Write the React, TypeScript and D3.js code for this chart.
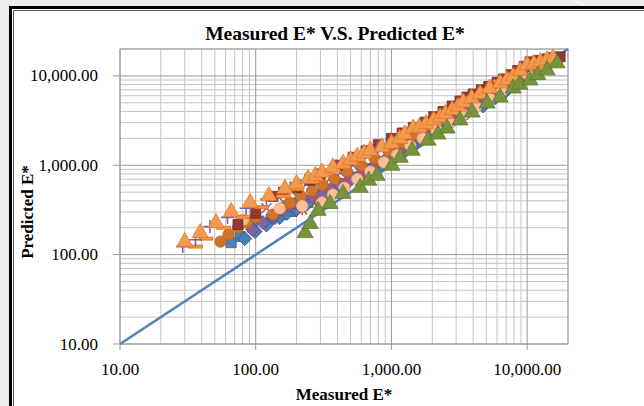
import React from "react";
import * as d3 from "d3";

const W = 644;
const H = 406;

const xDomain: [number, number] = [10, 20000];
const yDomain: [number, number] = [10, 20000];
const majorTicks = [10, 100, 1000, 10000];
const majorLabels = ["10.00", "100.00", "1,000.00", "10,000.00"];
const minorMultipliers = [2, 3, 4, 5, 6, 7, 8, 9];

const titleText = "Measured E* V.S. Predicted E*";
const xTitle = "Measured E*";
const yTitle = "Predicted E*";

type Pt = [number, number];

const blueSquare: Pt[] = [[66,136],[77,159],[95,200],[130,250],[155,280],[185,304],[215,345],[243,384],[290,450],[350,520],[420,620],[520,740],[650,920],[800,1100],[1000,1400],[1250,1700],[1600,2200],[2000,2700],[2500,3400],[3200,4200],[4000,5200],[5000,6400],[6300,8000],[8000,9800],[10000,11500],[12000,13500]];
const blueDiamond: Pt[] = [[83,151],[99,181],[120,215],[150,260],[170,290],[200,320],[240,370],[280,420],[340,490],[400,560],[470,630],[558,697],[660,820],[800,950],[1000,1180],[1200,1400],[1500,1750],[1800,2100],[2300,2600],[2800,3100],[3600,3850],[4740,4600],[5800,5700],[7000,6800],[8500,8300],[10500,10000],[12000,11500],[14000,13000]];
const purpleDiamond: Pt[] = [[95,191],[113,229],[135,270],[156,321],[178,350],[200,380],[230,410],[265,437],[290,455],[313,472],[360,540],[420,600],[500,700],[600,800],[750,980],[900,1150],[1150,1420],[1400,1700],[1800,2150],[2200,2600],[2800,3300],[3500,4000],[4400,5000],[5500,6000],[7000,7500],[9000,9200],[11000,10800],[13000,12500]];
const redStar: Pt[] = [[220,321],[280,400],[350,480],[460,640],[600,800],[780,1050],[1000,1300],[1300,1700],[1700,2100],[2200,2700],[2800,3300],[3600,4100],[4500,5000],[5700,6200],[7000,7600],[8800,9400],[11000,11500],[13500,13500]];
const purpleX: Pt[] = [[120,330],[160,390],[200,450],[260,550],[330,650],[420,830],[520,1000],[680,1300],[869,1634],[1100,1900],[1374,2228],[1700,2600],[2000,3000],[2300,3300],[2618,3553],[3100,4100],[3600,4600],[4300,5000],[5070,5520],[6200,6700],[7500,8000],[9000,9000],[10500,10000],[13000,12700],[16630,15500]];
const orangeCircle: Pt[] = [[55,140],[63,168],[74,201],[86,229],[100,261],[134,281],[155,330],[180,380],[215,450],[260,520],[310,600],[380,700],[470,850],[600,1000],[750,1200],[950,1450],[1200,1800],[1500,2200],[1900,2800],[2400,3400],[3000,4300],[3800,5200],[4800,6500],[6000,7800],[7600,9600],[9500,11500],[11500,13000],[14000,14500]];
const peachCircle: Pt[] = [[81,247],[150,330],[220,350],[308,384],[370,470],[450,560],[560,700],[700,850],[880,1080],[1100,1300],[1380,1650],[1700,2000],[2150,2500],[2700,3000],[3400,3700],[4200,4500],[5300,5600],[6500,6800],[8200,8600],[10000,10500],[12500,12500]];
const darkRedSquare: Pt[] = [[74,217],[100,290],[134,449],[160,500],[200,560],[250,680],[300,800],[400,1000],[521,1230],[650,1450],[800,1700],[1000,2000],[1200,2300],[1450,2650],[1770,3040],[2050,3500],[2400,4000],[2800,4600],[3200,5240],[3600,5800],[4000,6280],[4600,7000],[5200,7600],[6000,8500],[6700,9250],[7600,10300],[8500,11500],[9500,12800],[10500,14360],[12000,14900],[14000,15500],[15500,16000],[17500,16350]];
const orangeDash: Pt[] = [[36,123],[43,151],[58,200],[80,265],[110,340],[160,450],[200,540],[260,650],[330,800],[420,950],[540,1150],[700,1400],[880,1700],[1100,2000],[1400,2450],[1800,2900],[2300,3600],[3000,4500],[3900,5700],[5000,7000],[6300,8700],[8000,10500],[10000,12300],[13000,14500]];
const purplePlus: Pt[] = [[29,123],[36,147],[46,206],[62,261],[85,330],[120,420],[180,560],[230,680],[300,800],[390,980],[500,1150],[640,1380],[800,1600],[1000,1950],[1300,2300],[1700,2850],[2200,3400],[2800,4200],[3500,5000],[4400,6200],[5500,7400],[7000,9100],[8500,10800],[10000,12200],[12000,14000]];
const orangeTriangle: Pt[] = [[30,144],[39,181],[51,235],[66,312],[91,394],[125,470],[164,566],[200,640],[243,733],[275,790],[308,860],[370,980],[440,1081],[500,1180],[560,1300],[630,1400],[697,1513],[850,1650],[1000,1813],[1150,2050],[1250,2300],[1445,2673],[1600,2750],[1800,3000],[2050,3300],[2285,3553],[2500,3900],[2800,4300],[3100,4700],[3377,5240],[3900,5800],[4500,6500],[5300,7500],[6325,8565],[7100,9300],[7900,10200],[8900,11800],[10000,13650],[11200,14000],[12500,14800],[14000,15600],[15500,16350]];
const greenTriangle: Pt[] = [[231,181],[252,229],[288,321],[353,384],[440,498],[588,581],[680,700],[783,792],[1010,1026],[1160,1262],[1420,1513],[1862,1960],[2200,2300],[2570,2673],[3200,3300],[3935,4045],[5070,5110],[6325,5960],[7890,7520],[8800,8300],[10500,9250],[12000,10600],[14030,11990],[16630,14360]];

const equalityLine: Pt[] = [[10, 10], [20000, 20000]];

type Kind = "diamond" | "square" | "triangle" | "circle" | "x" | "star" | "plus" | "dash";

const seriesList: { data: Pt[]; kind: Kind; fill: string; stroke: string }[] = [
  { data: blueSquare, kind: "square", fill: "#4F81BD", stroke: "#385D8A" },
  { data: blueDiamond, kind: "diamond", fill: "#4A7EBB", stroke: "#2C4D75" },
  { data: purpleDiamond, kind: "diamond", fill: "#8064A2", stroke: "#5C4776" },
  { data: redStar, kind: "star", fill: "none", stroke: "#C0504D" },
  { data: purpleX, kind: "x", fill: "none", stroke: "#8064A2" },
  { data: orangeCircle, kind: "circle", fill: "#D0742C", stroke: "#B65F1E" },
  { data: peachCircle, kind: "circle", fill: "#F9BE95", stroke: "#F4A878" },
  { data: darkRedSquare, kind: "square", fill: "#953735", stroke: "#772C2A" },
  { data: orangeDash, kind: "dash", fill: "#F79646", stroke: "#E46C0A" },
  { data: purplePlus, kind: "plus", fill: "none", stroke: "#7A62A8" },
  { data: orangeTriangle, kind: "triangle", fill: "#F39A4E", stroke: "#E07A2A" },
  { data: greenTriangle, kind: "triangle", fill: "#77933C", stroke: "#5F7730" },
];

const circlePath = d3.symbol().type(d3.symbolCircle).size(100)() as string;

function markerPath(kind: Kind): string {
  switch (kind) {
    case "diamond":
      return "M0,-7L7,0L0,7L-7,0Z";
    case "square":
      return "M-5,-5h10v10h-10Z";
    case "triangle":
      return "M0,-8L8,6L-8,6Z";
    case "circle":
      return circlePath;
    case "x":
      return "M-5,-5L5,5M-5,5L5,-5";
    case "star":
      return "M-5,-5L5,5M-5,5L5,-5M0,-6V6";
    case "plus":
      return "M-6.5,0H6.5M0,-6.5V6.5";
    case "dash":
      return "M-7,-1.5h14v3h-14Z";
  }
}

export default function App() {
  const left = 120, right = 568, top = 49, bottom = 344;
  const x = d3.scaleLog().domain(xDomain).range([left, right]);
  const y = d3.scaleLog().domain(yDomain).range([bottom, top]);

  const gridVals: { v: number; major: boolean }[] = [];
  majorTicks.forEach((d) => {
    gridVals.push({ v: d, major: true });
    minorMultipliers.forEach((m) => {
      const v = d * m;
      if (v < xDomain[1]) gridVals.push({ v, major: false });
    });
  });
  gridVals.push({ v: xDomain[1], major: false });

  const line = d3.line<Pt>().x((d) => x(d[0])).y((d) => y(d[1]));
  const font = "'Liberation Serif', 'Times New Roman', serif";

  return (
    <svg width={W} height={H} style={{ position: "absolute", left: 0, top: 0, display: "block" }}>
      <rect x={0} y={0} width={W} height={H} fill="#ececec" />
      <path d="M574,0 Q580,4 590,8" stroke="#fafafa" strokeWidth={1.5} fill="none" />
      <rect x={9} y={6} width={W - 9} height={H - 6} fill="#000" />
      <rect x={12} y={9} width={W - 12} height={H - 9} fill="#fff" />
      <line x1={13.5} y1={10.5} x2={W} y2={10.5} stroke="#555" strokeWidth={1} />
      <line x1={13.5} y1={10.5} x2={13.5} y2={H} stroke="#555" strokeWidth={1} />

      {gridVals.filter((g) => !g.major).map((g, i) => (
        <g key={"mn" + i}>
          <line x1={x(g.v)} x2={x(g.v)} y1={top} y2={bottom} stroke="#c4c4c4" strokeWidth={1} />
          <line x1={left} x2={right} y1={y(g.v)} y2={y(g.v)} stroke="#c4c4c4" strokeWidth={1} />
        </g>
      ))}
      {gridVals.filter((g) => g.major).map((g, i) => (
        <g key={"mj" + i}>
          <line x1={x(g.v)} x2={x(g.v)} y1={top} y2={bottom + 6} stroke="#9a9a9a" strokeWidth={1} />
          <line x1={left - 7} x2={right} y1={y(g.v)} y2={y(g.v)} stroke="#9a9a9a" strokeWidth={1} />
        </g>
      ))}
      <rect x={left} y={top} width={right - left} height={bottom - top} fill="none" stroke="#9a9a9a" strokeWidth={1} />

      <path d={line(equalityLine) as string} stroke="#4F81BD" strokeWidth={2.5} fill="none" />

      {seriesList.map((s, si) => (
        <g key={"s" + si}>
          {s.data.map((d, i) => (
            <path
              key={i}
              transform={`translate(${x(d[0])},${y(d[1])})`}
              d={markerPath(s.kind)}
              fill={s.fill}
              stroke={s.stroke}
              strokeWidth={s.fill === "none" ? 1.6 : 0.8}
            />
          ))}
        </g>
      ))}

      {majorTicks.map((t, i) => (
        <text key={"xl" + i} x={x(t)} y={375} textAnchor="middle" fontFamily={font} fontSize={17} fill="#000">
          {majorLabels[i]}
        </text>
      ))}
      {majorTicks.map((t, i) => (
        <text key={"yl" + i} x={98} y={y(t) + 5.5} textAnchor="end" fontFamily={font} fontSize={17} fill="#000">
          {majorLabels[i]}
        </text>
      ))}

      <text x={335} y={40} textAnchor="middle" fontFamily={font} fontSize={19.5} fontWeight="bold" fill="#000">
        {titleText}
      </text>
      <text x={344} y={400} textAnchor="middle" fontFamily={font} fontSize={17} fontWeight="bold" fill="#000">
        {xTitle}
      </text>
      <text transform="translate(33,212) rotate(-90)" textAnchor="middle" fontFamily={font} fontSize={17} fontWeight="bold" fill="#000">
        {yTitle}
      </text>
    </svg>
  );
}
